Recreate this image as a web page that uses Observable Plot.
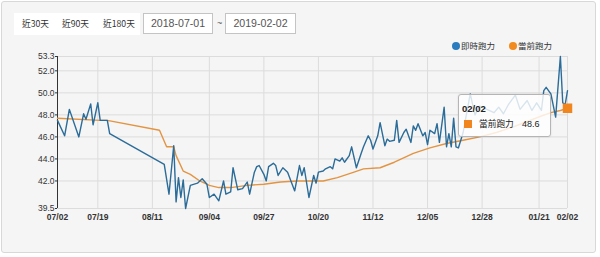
<!DOCTYPE html>
<html>
<head>
<meta charset="utf-8">
<script src="https://cdn.jsdelivr.net/npm/d3@7"></script>
<script src="https://cdn.jsdelivr.net/npm/@observablehq/plot@0.6"></script>
<style>
  html, body { margin: 0; padding: 0; background: #fff; }
  body { width: 600px; height: 257px; overflow: hidden; position: relative;
         font-family: "Noto Sans CJK TC", "Liberation Sans", sans-serif; color: #333; }
  #card { position: absolute; left: 1px; top: 1px; width: 595px; height: 252px; box-sizing: border-box;
          border: 1px solid #d8d8d8; border-radius: 3px; background: #f5f5f5; }
  #btns { position: absolute; left: 14px; top: 13px; width: 126px; height: 22px; background: #fff; }
  .btn { position: absolute; top: 13px; height: 22px; line-height: 22px; font-size: 8.7px; color: #333; white-space: nowrap; }
  .date { position: absolute; top: 13px; height: 21px; box-sizing: border-box; border: 1px solid #c4c4c4; background: #fff;
          font-family: "Liberation Sans", Arial, sans-serif; font-size: 10.6px; color: #555; line-height: 19px; text-align: center; }
  #tilde { position: absolute; left: 217px; top: 13px; line-height: 21px; font-size: 9px; color: #555; font-family: "Liberation Sans", Arial, sans-serif; }
  .leg { position: absolute; top: 38px; height: 14px; line-height: 14px; font-size: 8.5px; color: #333; white-space: nowrap; }
  .leg i { display: inline-block; width: 8px; height: 8px; border-radius: 50%; vertical-align: -1px; margin-right: 1px; }
  #chart { position: absolute; left: 0; top: 40px; }
  #tip { position: absolute; box-sizing: border-box; width: 93px; height: 43px; background: rgba(255,255,255,0.82);
         border: 1px solid #b5b5b5; border-radius: 3px; box-shadow: 0 0 2px rgba(0,0,0,0.12); }
  #tip .d { position: absolute; left: 3px; top: 8px; font: bold 9.5px "Liberation Sans", Arial, sans-serif; color: #222; }
  #tip .sq { position: absolute; left: 5px; top: 25px; width: 8px; height: 8px; }
  #tip .n { position: absolute; left: 20px; top: 22px; font-size: 8.7px; line-height: 14px; color: #222; white-space: nowrap; }
  #tip .v { position: absolute; left: 63px; top: 22px; font: 9px "Liberation Sans", Arial, sans-serif; line-height: 14px; color: #222; }
</style>
</head>
<body>
<div id="card"></div>
<div id="btns"></div>
<div id="controls"></div>
<div id="legend"></div>
<div id="chart"></div>
<script>
// ---- data ----
const rangeButtons = ["近30天", "近90天", "近180天"];
const rangeDates = ["2018-07-01", "2019-02-02"];
const seriesNames = ["即時跑力", "當前跑力"];
const seriesColors = ["#2b6c99", "#e39442"];
const legendColors = ["#2a7bbf", "#f28a1e"];
const markerColor = "#f0861d";

const blueDates = [
  "2018-07-02","2018-07-05","2018-07-07","2018-07-11","2018-07-13","2018-07-14","2018-07-16","2018-07-17","2018-07-19","2018-07-20",
  "2018-07-23","2018-07-24","2018-08-16","2018-08-18","2018-08-20","2018-08-21","2018-08-22","2018-08-23","2018-08-24","2018-08-25",
  "2018-08-27","2018-08-30","2018-09-01","2018-09-03","2018-09-04","2018-09-06","2018-09-08","2018-09-10","2018-09-11","2018-09-13",
  "2018-09-14","2018-09-16","2018-09-18","2018-09-20","2018-09-21","2018-09-23","2018-09-24","2018-09-25","2018-09-27","2018-09-28",
  "2018-09-29","2018-10-01","2018-10-02","2018-10-03","2018-10-05","2018-10-07","2018-10-10","2018-10-12","2018-10-13","2018-10-14",
  "2018-10-16","2018-10-18","2018-10-19","2018-10-20","2018-10-22","2018-10-23","2018-10-25","2018-10-26","2018-10-27","2018-10-29",
  "2018-10-30","2018-10-31","2018-11-02","2018-11-03","2018-11-05","2018-11-07","2018-11-08","2018-11-10","2018-11-11","2018-11-12",
  "2018-11-14","2018-11-15","2018-11-17","2018-11-18","2018-11-19","2018-11-21","2018-11-22","2018-11-23","2018-11-25","2018-11-26",
  "2018-11-28","2018-11-29","2018-11-30","2018-12-01","2018-12-03","2018-12-04","2018-12-05","2018-12-06","2018-12-08","2018-12-09",
  "2018-12-10","2018-12-12","2018-12-13","2018-12-14","2018-12-15","2018-12-16","2018-12-17","2018-12-18","2018-12-20","2018-12-21",
  "2018-12-23","2018-12-25","2018-12-27","2018-12-30","2019-01-02","2019-01-04","2019-01-06","2019-01-08","2019-01-11","2019-01-13",
  "2019-01-16","2019-01-18","2019-01-20","2019-01-22","2019-01-23","2019-01-24","2019-01-26","2019-01-28","2019-01-30","2019-01-31",
  "2019-02-01","2019-02-02"
];
const blueValues = [
  47.5,46.1,48.5,46.0,48.1,47.6,49.0,47.1,49.1,47.5,
  47.5,46.3,43.5,40.8,45.2,40.1,42.3,40.5,42.1,39.5,
  41.6,41.8,42.2,41.7,40.5,40.8,40.2,42.0,40.8,41.0,
  43.2,41.2,41.3,41.9,40.8,42.8,43.3,43.4,42.6,42.0,
  43.3,43.6,43.4,42.5,43.2,42.8,41.1,43.4,42.5,43.2,
  40.5,42.5,41.8,42.8,42.9,43.1,43.3,43.1,44.0,43.8,
  44.1,43.7,44.3,45.1,43.2,44.5,45.1,46.1,45.7,44.9,
  46.1,47.3,45.2,45.8,45.6,45.7,47.5,45.5,46.4,46.7,
  45.5,47.0,46.6,47.2,46.1,46.4,45.3,46.6,46.3,47.2,
  45.5,48.7,45.1,46.3,45.1,47.7,45.1,45.0,46.4,47.6,
  49.9,48.0,48.8,48.5,48.2,48.7,48.1,48.9,49.8,48.5,
  49.3,48.4,49.1,48.4,50.2,50.5,49.9,47.8,53.3,49.1,
  48.9,50.2
];

const orangeDates = [
  "2018-07-02","2018-07-20","2018-07-23","2018-08-14","2018-08-17","2018-08-20","2018-08-21","2018-08-24","2018-08-27","2018-08-31",
  "2018-09-04","2018-09-08","2018-09-13","2018-09-20","2018-09-27","2018-10-04","2018-10-11","2018-10-18","2018-10-22","2018-10-28",
  "2018-11-04","2018-11-08","2018-11-15","2018-11-21","2018-11-24","2018-11-29","2018-12-06","2018-12-13","2018-12-20","2018-12-27",
  "2019-01-03","2019-01-10","2019-01-16","2019-01-22","2019-01-26","2019-01-30","2019-02-02"
];
const orangeValues = [
  47.7,47.5,47.5,46.6,45.1,45.1,44.3,42.9,42.6,42.0,
  41.6,41.4,41.4,41.6,41.7,41.9,42.0,42.0,42.0,42.3,
  42.8,43.1,43.2,43.7,44.0,44.5,45.0,45.4,45.7,46.0,
  46.4,46.9,47.4,47.9,48.2,48.4,48.6
];

const xTickDates = ["2018-07-02","2018-07-19","2018-08-11","2018-09-04","2018-09-27","2018-10-20",
                    "2018-11-12","2018-12-05","2018-12-28","2019-01-21","2019-02-02"];
const yTicks = [39.5, 42, 44, 46, 48, 50, 52, 53.3];
const yDomain = [39.5, 53.3];
const tooltipDate = "2019-02-02";

// ---- build ----
const parse = d3.utcParse("%Y-%m-%d");
const blue = blueDates.map((d, i) => ({date: parse(d), value: blueValues[i]}));
const orange = orangeDates.map((d, i) => ({date: parse(d), value: orangeValues[i]}));
const xTicks = xTickDates.map(parse);
const tipPoint = orange.find(d => +d.date === +parse(tooltipDate));

// controls
const btnLeft = [22, 62, 103];
const controls = document.getElementById("controls");
rangeButtons.forEach((t, i) => {
  const s = document.createElement("div");
  s.className = "btn"; s.style.left = btnLeft[i] + "px"; s.textContent = t;
  controls.appendChild(s);
});
[[143, 70], [225, 71]].forEach(([l, w], i) => {
  const b = document.createElement("div");
  b.className = "date"; b.style.left = l + "px"; b.style.width = w + "px"; b.textContent = rangeDates[i];
  controls.appendChild(b);
});
const tl = document.createElement("div"); tl.id = "tilde"; tl.textContent = "~"; controls.appendChild(tl);

// legend
const legend = document.getElementById("legend");
[452, 509].forEach((l, i) => {
  const e = document.createElement("div");
  e.className = "leg"; e.style.left = l + "px";
  e.innerHTML = `<i style="background:${legendColors[i]}"></i>${seriesNames[i]}`;
  legend.appendChild(e);
});

const chart = Plot.plot({
  width: 600,
  height: 190,
  marginLeft: 57,
  marginRight: 33,
  marginTop: 16,
  marginBottom: 22,
  style: {background: "transparent", fontSize: "8.5px", fontFamily: "'Liberation Sans', Arial, sans-serif", color: "#333", overflow: "visible"},
  x: {type: "utc", domain: [xTicks[0], xTicks[xTicks.length - 1]], ticks: xTicks, tickFormat: d3.utcFormat("%m/%d"), tickSize: 0, tickPadding: 5, label: null},
  y: {domain: yDomain, ticks: yTicks, tickFormat: d => d.toFixed(1), tickSize: 2, tickPadding: 1, label: null},
  marks: [
    Plot.ruleY(yTicks, {stroke: "#dcdcdc", strokeWidth: 1}),
    Plot.ruleX(xTicks.slice(1), {stroke: "#dcdcdc", strokeWidth: 1}),
    Plot.ruleX([xTicks[0]], {stroke: "#333", strokeWidth: 1}),
    Plot.lineY(orange, {x: "date", y: "value", stroke: seriesColors[1], strokeWidth: 1.4}),
    Plot.lineY(blue, {x: "date", y: "value", stroke: seriesColors[0], strokeWidth: 1.4}),
    Plot.dot([tipPoint], {x: "date", y: "value", symbol: "square", r: 4.5, fill: markerColor, stroke: markerColor})
  ]
});
chart.querySelectorAll('[aria-label="x-axis tick label"] text, [aria-label="x-axis tick label"]').forEach(n => n.setAttribute("font-weight", "bold"));
document.getElementById("chart").appendChild(chart);

// tooltip anchored to the last orange point via the chart scales
const px = chart.scale("x").apply(tipPoint.date);
const py = chart.scale("y").apply(tipPoint.value);
const tip = document.createElement("div");
tip.id = "tip";
tip.style.left = (px - 109) + "px";
tip.style.top = (40 + py - 14) + "px";
tip.innerHTML = `<div class="d">${d3.utcFormat("%m/%d")(tipPoint.date)}</div>
  <div class="sq" style="background:${markerColor}"></div>
  <div class="n">${seriesNames[1]}</div>
  <div class="v">${tipPoint.value.toFixed(1)}</div>`;
document.body.appendChild(tip);
</script>
</body>
</html>
